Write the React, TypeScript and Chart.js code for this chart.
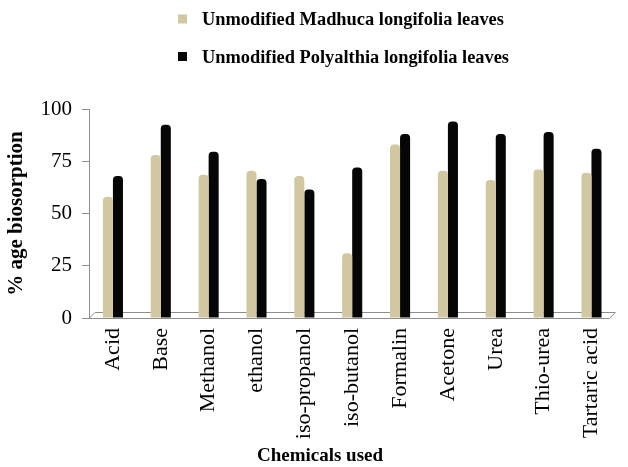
import React, { useEffect, useRef } from "react";
import { Chart, registerables } from "chart.js";

Chart.register(...registerables);

const categories = [
  "Acid",
  "Base",
  "Methanol",
  "ethanol",
  "iso-propanol",
  "iso-butanol",
  "Formalin",
  "Acetone",
  "Urea",
  "Thio-urea",
  "Tartaric acid",
];
const madhuca = [58, 78, 68.5, 70.5, 68, 31, 83, 70.5, 66, 71, 69.5];
const polyalthia = [68, 92.5, 79.5, 66.5, 61.5, 72, 88, 94, 88, 89, 81];
const seriesNames = [
  "Unmodified Madhuca longifolia leaves",
  "Unmodified Polyalthia longifolia leaves",
];
const yTitle = "% age biosorption";
const xTitle = "Chemicals used";

const TAN = "#D1C8A2";
const BLACK = "#060606";
const GRAY = "#8e8e8e";
const SERIF = "'Times New Roman', 'Liberation Serif', serif";

const decorPlugin = {
  id: "decor",
  beforeDatasetsDraw(chart: any) {
    const { ctx, chartArea } = chart;
    const L = chartArea.left;
    const R = chartArea.right;
    const B = chartArea.bottom;
    const d = 6;
    ctx.save();
    ctx.strokeStyle = GRAY;
    ctx.lineWidth = 1;
    ctx.beginPath();
    ctx.moveTo(L, B + 0.5);
    ctx.lineTo(R - d, B + 0.5);
    ctx.lineTo(R, B - d + 0.5);
    ctx.lineTo(L + d, B - d + 0.5);
    ctx.lineTo(L, B + 0.5);
    ctx.stroke();
    ctx.restore();
  },
  afterDraw(chart: any) {
    const { ctx } = chart;
    ctx.save();
    const items = [
      { color: TAN, sq: 19, y: 20 },
      { color: BLACK, sq: 56.5, y: 58 },
    ];
    ctx.font = `bold 18.4px ${SERIF}`;
    ctx.textBaseline = "middle";
    ctx.textAlign = "left";
    items.forEach((it, i) => {
      ctx.fillStyle = it.color;
      ctx.fillRect(178, it.sq - 4.5, 9, 9);
      ctx.fillStyle = "#000";
      ctx.fillText(seriesNames[i], 202, it.y);
    });
    ctx.font = `bold 19px ${SERIF}`;
    ctx.textAlign = "center";
    ctx.fillText(xTitle, 320, 456);
    ctx.restore();
  },
};

export default function App() {
  const ref = useRef<HTMLCanvasElement>(null);
  useEffect(() => {
    if (!ref.current) return;
    const chart = new Chart(ref.current, {
      type: "bar",
      data: {
        labels: categories,
        datasets: [
          {
            label: seriesNames[0],
            data: madhuca,
            backgroundColor: TAN,
            borderRadius: { topLeft: 4, topRight: 4, bottomLeft: 0, bottomRight: 0 },
            borderSkipped: false,
            categoryPercentage: 0.42,
            barPercentage: 1,
          },
          {
            label: seriesNames[1],
            data: polyalthia,
            backgroundColor: BLACK,
            borderRadius: { topLeft: 4, topRight: 4, bottomLeft: 0, bottomRight: 0 },
            borderSkipped: false,
            categoryPercentage: 0.42,
            barPercentage: 1,
          },
        ],
      },
      options: {
        animation: false,
        responsive: true,
        maintainAspectRatio: false,
        layout: { padding: { top: 109, right: 3, left: 0, bottom: 0 } },
        plugins: {
          legend: { display: false },
          tooltip: { enabled: false },
        },
        scales: {
          x: {
            grid: { display: false, drawTicks: false },
            border: { display: false },
            ticks: {
              autoSkip: false,
              minRotation: 90,
              maxRotation: 90,
              padding: 10,
              color: "#000",
              font: { family: SERIF, size: 22 },
            },
            afterFit(scale: any) {
              scale.height = 149;
            },
          },
          y: {
            min: 0,
            max: 100,
            ticks: {
              stepSize: 25,
              padding: 10,
              color: "#000",
              font: { family: SERIF, size: 21 },
            },
            grid: {
              display: true,
              drawOnChartArea: false,
              drawTicks: true,
              tickLength: 7,
              color: GRAY,
            },
            border: { display: true, color: GRAY },
            title: {
              display: true,
              text: yTitle,
              color: "#000",
              font: { family: SERIF, size: 21, weight: "bold" },
              padding: { top: 4, bottom: 0 },
            },
            afterFit(scale: any) {
              scale.width = 89;
            },
          },
        },
      },
      plugins: [decorPlugin],
    });
    return () => chart.destroy();
  }, []);
  return (
    <div style={{ position: "fixed", left: 0, top: 0, width: 628, height: 467, background: "#fff" }}>
      <canvas ref={ref} />
    </div>
  );
}
